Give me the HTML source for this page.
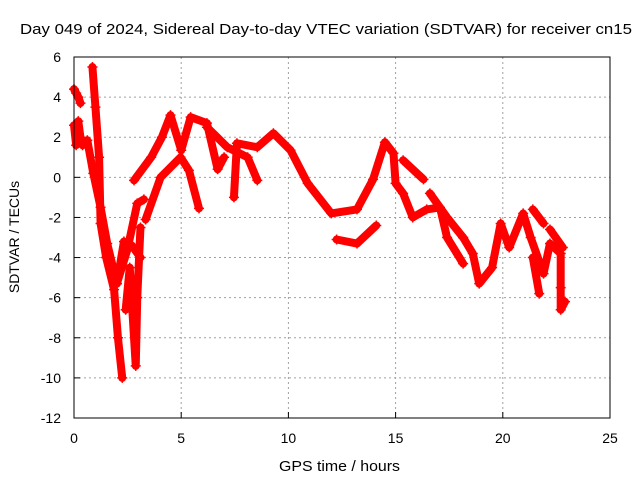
<!DOCTYPE html>
<html><head><meta charset="utf-8"><style>
body{margin:0;background:#fff;}
svg{display:block;font-family:"Liberation Sans",sans-serif;}
</style></head><body>
<svg id="chart" width="640" height="480">
<text x="20" y="34" font-size="15" textLength="612" lengthAdjust="spacingAndGlyphs">Day 049 of 2024, Sidereal Day-to-day VTEC variation (SDTVAR) for receiver cn15</text>
<text x="279" y="471" font-size="15" textLength="121" lengthAdjust="spacingAndGlyphs">GPS time / hours</text>
<text x="19" y="237" font-size="14" text-anchor="middle" transform="rotate(-90 19 237)">SDTVAR / TECUs</text>
<g id="grid"></g><g id="ticks"></g><g id="marks"></g>
<rect x="74" y="57" width="536" height="361" fill="none" stroke="#000" stroke-width="1"/>
</svg>
<script>
const xTicks=[0,5,10,15,20,25];
const yTicks=[6,4,2,0,-2,-4,-6,-8,-10,-12];
// tracks: hours / TECU values
const t1x=[0,0.1,0.2,0.3];
const t1y=[4.4,4.2,4.0,3.7];
const t2x=[0,0.1,0.2,0.3,0.4];
const t2y=[2.6,1.6,2.8,2.0,1.6];
const t3x=[0.86,1.0,1.17,1.24,1.5,1.87,2.05,2.25];
const t3y=[5.5,3.5,1.0,-2.3,-4.0,-5.6,-8.0,-10.0];
const t4x=[0.62,0.9,1.24,1.55,2.0,2.33,2.7,3.1];
const t4y=[1.85,0.2,-1.5,-3.3,-5.3,-3.2,-3.4,-4.0];
const t5x=[2.0,2.49,2.95,3.26];
const t5y=[-5.3,-3.6,-1.3,-1.1];
const t6x=[2.41,2.6,2.88,2.95,3.1];
const t6y=[-6.6,-4.5,-9.4,-6.0,-2.5];
const t7x=[2.8,3.6,4.1,4.5,5.0,5.44,6.2,6.7,7.0];
const t7y=[-0.15,1.0,2.0,3.1,1.35,3.0,2.7,0.4,1.0];
const t8x=[3.34,4.04,4.97,5.36,5.83];
const t8y=[-2.1,0.0,1.0,0.35,-1.55];
const t9x=[7.46,7.6,8.55,9.3,10.1,10.9,12.0,13.2,13.95,14.5,14.9,15.0,15.35,15.8,16.45,17.07,17.4,18.15];
const t9y=[-1.0,1.7,1.5,2.2,1.35,-0.3,-1.8,-1.6,-0.1,1.75,1.2,-0.3,-0.8,-2.0,-1.6,-1.5,-3.0,-4.3];
const t10x=[6.2,7.15,8.1,8.55];
const t10y=[2.5,1.5,1.0,-0.15];
const t11x=[12.25,13.2,14.1];
const t11y=[-3.1,-3.3,-2.4];
const t12x=[16.6,17.4,18.15];
const t12y=[-0.8,-2.0,-3.0];
const t13x=[15.35,16.3];
const t13y=[0.85,-0.1];
const t14x=[18.15,18.6,18.9,19.5,19.9,20.3,20.95,21.3,21.9,22.2,22.7,22.7,22.7,22.9];
const t14y=[-3.0,-3.8,-5.3,-4.5,-2.3,-3.5,-1.8,-3.0,-4.8,-3.3,-3.8,-5.5,-6.6,-6.2];
const t15x=[21.4,21.9];
const t15y=[-1.6,-2.3];
const t16x=[21.4,21.7];
const t16y=[-4.0,-5.8];
const t17x=[22.2,22.8];
const t17y=[-2.6,-3.5];
const tracks=[[t1x,t1y],[t2x,t2y],[t3x,t3y],[t4x,t4y],[t5x,t5y],[t6x,t6y],[t7x,t7y],[t8x,t8y],[t9x,t9y],[t10x,t10y],[t11x,t11y],[t12x,t12y],[t13x,t13y],[t14x,t14y],[t15x,t15y],[t16x,t16y],[t17x,t17y]];
const NS="http://www.w3.org/2000/svg";
const X=v=>74+v*536/25;
const Y=v=>57+(6-v)*361/18;
const grid=document.getElementById('grid'),ticks=document.getElementById('ticks'),marks=document.getElementById('marks');
function mk(tag,attrs,parent){const e=document.createElementNS(NS,tag);for(const k in attrs)e.setAttribute(k,attrs[k]);parent.appendChild(e);return e;}
xTicks.forEach(v=>{
 if(v>0&&v<25){const g=mk('line',{x1:X(v),x2:X(v),y1:57,y2:418,stroke:'#a0a0a0','stroke-dasharray':'2,3'},grid);
 
 }
 const t=mk('text',{x:X(v),y:443,'font-size':14,'text-anchor':'middle'},ticks);t.textContent=v;
 
 
 mk('line',{x1:X(v),x2:X(v),y1:418,y2:412,stroke:'#000'},ticks);
});
yTicks.forEach(v=>{
 if(v<6&&v>-12){const g=mk('line',{x1:74,x2:610,y1:Y(v),y2:Y(v),stroke:'#a0a0a0','stroke-dasharray':'2,3'},grid);
 
 }
 const t=mk('text',{x:61,y:Y(v)+5,'font-size':14,'text-anchor':'end'},ticks);t.textContent=v;
 
 
 mk('line',{x1:74,x2:80,y1:Y(v),y2:Y(v),stroke:'#000'},ticks);
});
tracks.forEach(([xs,ys])=>{
 const pts=xs.map((x,i)=>X(x)+','+Y(ys[i])).join(' ');
 const pl=mk('polyline',{points:pts,fill:'none',stroke:'#ff0000','stroke-width':8,'stroke-linejoin':'round','stroke-linecap':'round'},marks);
 
 
 xs.forEach((x,i)=>{
  const p=mk('path',{d:`M${X(x)-5},${Y(ys[i])}h10M${X(x)},${Y(ys[i])-5}v10`,stroke:'#ff0000','stroke-width':1.5},marks);
  
  
 });
});
</script>
</body></html>
